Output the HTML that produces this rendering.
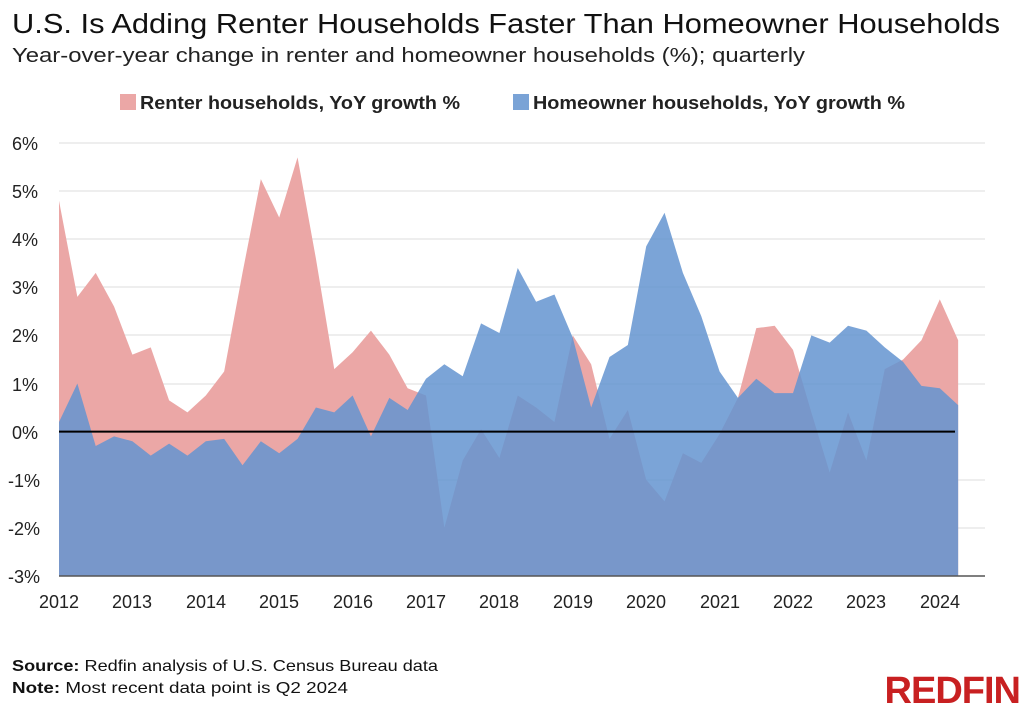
<!DOCTYPE html>
<html><head><meta charset="utf-8"><style>
body{margin:0;background:#fff;width:1024px;height:710px;overflow:hidden;font-family:"Liberation Sans",sans-serif;}
</style></head><body>
<svg width="1024" height="710" xmlns="http://www.w3.org/2000/svg" font-family="Liberation Sans, sans-serif">
<text x="12" y="33" font-size="28" fill="#111" textLength="988" lengthAdjust="spacingAndGlyphs">U.S. Is Adding Renter Households Faster Than Homeowner Households</text>
<text x="12" y="62" font-size="20" fill="#222" textLength="793" lengthAdjust="spacingAndGlyphs">Year-over-year change in renter and homeowner households (%); quarterly</text>
<rect x="120" y="94" width="16" height="16" fill="#eba7a6"/>
<text x="140" y="109" font-size="18" font-weight="bold" fill="#222" textLength="320" lengthAdjust="spacingAndGlyphs">Renter households, YoY growth %</text>
<rect x="513" y="94" width="16" height="16" fill="#7aa3d6"/>
<text x="533" y="109" font-size="18" font-weight="bold" fill="#222" textLength="372" lengthAdjust="spacingAndGlyphs">Homeowner households, YoY growth %</text>
<g stroke="#ddd" stroke-width="1">
<line x1="59" x2="985" y1="143" y2="143"/><line x1="59" x2="985" y1="191" y2="191"/><line x1="59" x2="985" y1="239" y2="239"/><line x1="59" x2="985" y1="287" y2="287"/><line x1="59" x2="985" y1="335" y2="335"/><line x1="59" x2="985" y1="384" y2="384"/><line x1="59" x2="985" y1="480" y2="480"/><line x1="59" x2="985" y1="528" y2="528"/>
</g>
<g transform="translate(59,431.6) scale(18.35,-48.1)">
<path fill="#eba7a6" d="M0,-3 L0,4.8 1,2.8 2,3.3 3,2.6 4,1.6 5,1.75 6,0.65 7,0.4 8,0.75 9,1.25 10,3.3 11,5.25 12,4.45 13,5.7 14,3.6 15,1.3 16,1.65 17,2.1 18,1.6 19,0.9 20,0.75 21,-2 22,-0.6 23,0.05 24,-0.55 25,0.75 26,0.5 27,0.2 28,2 29,1.4 30,-0.15 31,0.45 32,-1 33,-1.45 34,-0.45 35,-0.65 36,-0.05 37,0.7 38,2.15 39,2.2 40,1.7 41,0.4 42,-0.85 43,0.4 44,-0.6 45,1.3 46,1.5 47,1.9 48,2.75 49,1.9 L49,-3 Z"/>
<path fill="rgb(100,148,208)" fill-opacity="0.85" d="M0,-3 L0,0.2 1,1 2,-0.3 3,-0.1 4,-0.2 5,-0.5 6,-0.25 7,-0.5 8,-0.2 9,-0.15 10,-0.7 11,-0.2 12,-0.45 13,-0.15 14,0.5 15,0.4 16,0.75 17,-0.1 18,0.7 19,0.45 20,1.1 21,1.4 22,1.15 23,2.25 24,2.05 25,3.4 26,2.7 27,2.85 28,1.95 29,0.5 30,1.55 31,1.8 32,3.85 33,4.55 34,3.3 35,2.4 36,1.25 37,0.7 38,1.1 39,0.8 40,0.8 41,2 42,1.85 43,2.2 44,2.1 45,1.75 46,1.45 47,0.95 48,0.9 49,0.55 L49,-3 Z"/>
</g>
<line x1="59" x2="955" y1="431.6" y2="431.6" stroke="#000" stroke-width="2"/>
<line x1="59" x2="985" y1="576" y2="576" stroke="#555" stroke-width="1.5"/>
<g font-size="18" fill="#222">
<text x="12" y="150">6%</text><text x="12" y="198">5%</text><text x="12" y="246">4%</text><text x="12" y="294">3%</text><text x="12" y="342">2%</text><text x="12" y="391">1%</text><text x="12" y="439">0%</text><text x="8" y="487">-1%</text><text x="8" y="535">-2%</text><text x="8" y="583">-3%</text>
</g>
<g font-size="18" fill="#222" text-anchor="middle">
<text x="59" y="608">2012</text><text x="132" y="608">2013</text><text x="206" y="608">2014</text><text x="279" y="608">2015</text><text x="353" y="608">2016</text><text x="426" y="608">2017</text><text x="499" y="608">2018</text><text x="573" y="608">2019</text><text x="646" y="608">2020</text><text x="720" y="608">2021</text><text x="793" y="608">2022</text><text x="866" y="608">2023</text><text x="940" y="608">2024</text>
</g>
<text x="12" y="671" font-size="16" fill="#111" textLength="426" lengthAdjust="spacingAndGlyphs"><tspan font-weight="bold">Source:</tspan> Redfin analysis of U.S. Census Bureau data</text>
<text x="12" y="693" font-size="16" fill="#111" textLength="336" lengthAdjust="spacingAndGlyphs"><tspan font-weight="bold">Note:</tspan> Most recent data point is Q2 2024</text>
<text x="1020" y="703" font-size="38" font-weight="bold" fill="#c82021" text-anchor="end" letter-spacing="-1">REDFIN</text>
</svg>
</body></html>
